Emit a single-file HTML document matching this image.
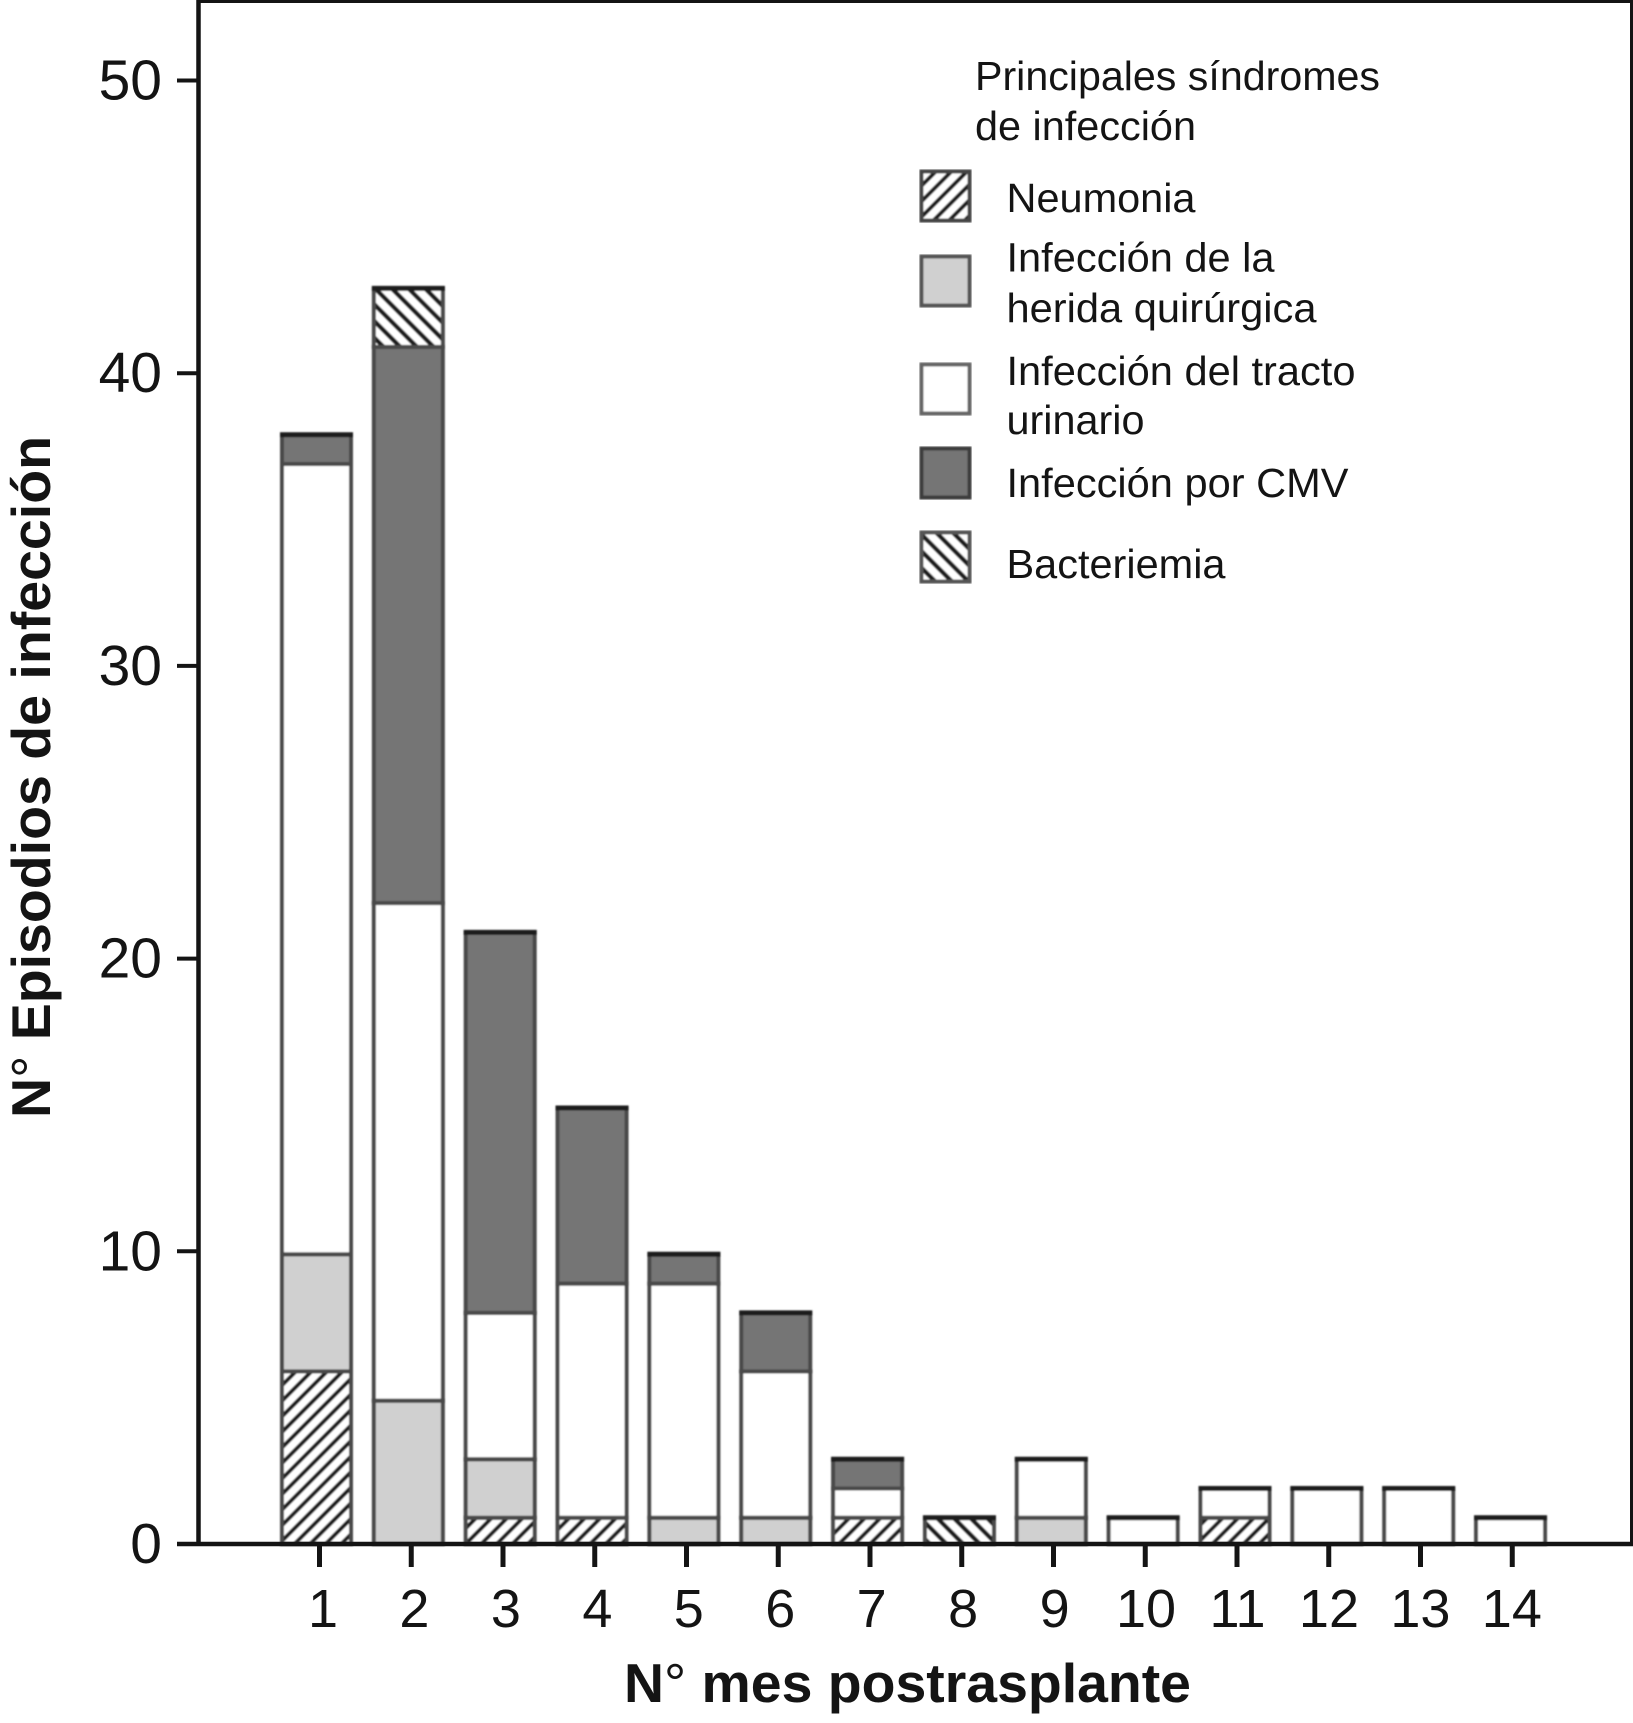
<!DOCTYPE html>
<html lang="es">
<head>
<meta charset="utf-8">
<title>Episodios de infección por mes postrasplante</title>
<style>
  html, body { margin: 0; padding: 0; background: #fff; }
  svg { display: block; }
  text { font-family: "Liberation Sans", sans-serif; fill: #141414; }
</style>
</head>
<body>
<svg id="chart" xmlns="http://www.w3.org/2000/svg" width="1633" height="1723" viewBox="0 0 1633 1723">
  <defs>
    <pattern id="hatch-neumonia" patternUnits="userSpaceOnUse" width="11" height="11" patternTransform="rotate(45)">
      <rect width="11" height="11" fill="#fff"/>
      <rect width="4" height="11" fill="#1c1c1c"/>
    </pattern>
    <pattern id="hatch-bacteriemia" patternUnits="userSpaceOnUse" width="11.8" height="11.8" patternTransform="rotate(-45)">
      <rect width="11.8" height="11.8" fill="#fff"/>
      <rect width="4.5" height="11.8" fill="#1c1c1c"/>
    </pattern>
    <filter id="soft" x="-5%" y="-5%" width="110%" height="110%">
      <feGaussianBlur stdDeviation="0.9"/>
    </filter>
  </defs>

  <rect width="1633" height="1723" fill="#fff"/>
  <g id="bars" filter="url(#soft)"></g>

  <g id="axes">
    <line x1="197" y1="1.5" x2="1633" y2="1.5" stroke="#141414" stroke-width="3"/>
    <line x1="1631.5" y1="0" x2="1631.5" y2="1546" stroke="#141414" stroke-width="3"/>
    <line x1="198.5" y1="0" x2="198.5" y2="1546" stroke="#141414" stroke-width="4.5"/>
    <line x1="177" y1="1544" x2="1633" y2="1544" stroke="#141414" stroke-width="4.5"/>
  </g>

  <text transform="translate(50 1118) rotate(-90)" font-size="55" font-weight="700" textLength="682" lengthAdjust="spacingAndGlyphs">N<tspan font-weight="400">°</tspan> Episodios de infección</text>
  <text x="624" y="1702" font-size="55" font-weight="700" textLength="567" lengthAdjust="spacingAndGlyphs">N<tspan font-weight="400">°</tspan> mes postrasplante</text>

  <g font-size="40.5">
    <text x="975" y="90" textLength="405" lengthAdjust="spacingAndGlyphs">Principales síndromes</text>
    <text x="975" y="140" textLength="221" lengthAdjust="spacingAndGlyphs">de infección</text>

    <g>
      <rect x="921.5" y="171.5" width="48" height="49" fill="url(#hatch-neumonia)" stroke="#444" stroke-width="4" filter="url(#soft)"/>
      <text x="1006.5" y="212" textLength="189" lengthAdjust="spacingAndGlyphs">Neumonia</text>
    </g>
    <g>
      <rect x="921.5" y="256.5" width="48" height="49" fill="#d0d0d0" stroke="#555" stroke-width="4" filter="url(#soft)"/>
      <text x="1006.5" y="271.5" textLength="268" lengthAdjust="spacingAndGlyphs">Infección de la</text>
      <text x="1006.5" y="322" textLength="310" lengthAdjust="spacingAndGlyphs">herida quirúrgica</text>
    </g>
    <g>
      <rect x="921.5" y="364.5" width="48" height="49" fill="#fff" stroke="#666" stroke-width="4" filter="url(#soft)"/>
      <text x="1006.5" y="385" textLength="349" lengthAdjust="spacingAndGlyphs">Infección del tracto</text>
      <text x="1006.5" y="434" textLength="138" lengthAdjust="spacingAndGlyphs">urinario</text>
    </g>
    <g>
      <rect x="921.5" y="448.5" width="48" height="49" fill="#757575" stroke="#3c3c3c" stroke-width="4" filter="url(#soft)"/>
      <text x="1006.5" y="497" textLength="342" lengthAdjust="spacingAndGlyphs">Infección por CMV</text>
    </g>
    <g>
      <rect x="921.5" y="532.5" width="48" height="49" fill="url(#hatch-bacteriemia)" stroke="#555" stroke-width="4" filter="url(#soft)"/>
      <text x="1006.5" y="578" textLength="219" lengthAdjust="spacingAndGlyphs">Bacteriemia</text>
    </g>
  </g>
</svg>

<script>
const months = [1, 2, 3, 4, 5, 6, 7, 8, 9, 10, 11, 12, 13, 14];
const yTickLabels = [0, 10, 20, 30, 40, 50];
const neumonia    = [6, 0, 1, 1, 0, 0, 1, 0, 0, 0, 1, 0, 0, 0];
const herida      = [4, 5, 2, 0, 1, 1, 0, 0, 1, 0, 0, 0, 0, 0];
const urinario    = [27, 17, 5, 8, 8, 5, 1, 0, 2, 1, 1, 2, 2, 1];
const cmv         = [1, 19, 13, 6, 1, 2, 1, 0, 0, 0, 0, 0, 0, 0];
const bacteriemia = [0, 2, 0, 0, 0, 0, 0, 1, 0, 0, 0, 0, 0, 0];

const NS = 'http://www.w3.org/2000/svg';
const barWidth = 73;
const yScale = v => 1544 - v * 29.27;
const barCenter = m => 316.5 + (m - 1) * 91.85;
const tickX = m => 319.5 + (m - 1) * 91.75;
const labelX = m => 323 + (m - 1) * 91.45;

function make(tag, attrs) {
  const el = document.createElementNS(NS, tag);
  for (const k in attrs) el.setAttribute(k, attrs[k]);
  return el;
}

const barsGroup = document.getElementById('bars');
const axesGroup = document.getElementById('axes');
const chart = document.getElementById('chart');

const stackOrder = [
  { key: 'neumonia', values: neumonia, fill: 'url(#hatch-neumonia)' },
  { key: 'herida', values: herida, fill: '#d0d0d0' },
  { key: 'urinario', values: urinario, fill: '#ffffff' },
  { key: 'cmv', values: cmv, fill: '#757575' },
  { key: 'bacteriemia', values: bacteriemia, fill: 'url(#hatch-bacteriemia)' }
];

months.forEach((m, i) => {
  let base = 0;
  const total = stackOrder.reduce((sum, s) => sum + s.values[i], 0);
  stackOrder.forEach(s => {
    const v = s.values[i];
    if (v > 0) {
      const top = yScale(base + v) + 3;
      const bottom = Math.min(yScale(base) + 3, 1544);
      const left = barCenter(m) - barWidth / 2 + 2;
      const rect = make('rect', {
        x: left,
        y: top,
        width: barWidth - 4,
        height: Math.max(bottom - top, 1),
        fill: s.fill,
        stroke: '#4a4a4a',
        'stroke-width': 4
      });
      
      
      barsGroup.appendChild(rect);

      const isStackTop = base + v === total;
      const cap = make('line', {
        x1: left - 2,
        x2: left + barWidth - 2,
        y1: top,
        y2: top,
        stroke: isStackTop ? '#1c1c1c' : '#333333',
        'stroke-width': isStackTop ? 5 : 4
      });
      
      
      barsGroup.appendChild(cap);
    }
    base += v;
  });

  const tick = make('line', {
    x1: tickX(m), x2: tickX(m), y1: 1544, y2: 1567,
    stroke: '#141414', 'stroke-width': 5
  });
  
  
  axesGroup.appendChild(tick);

  const label = make('text', {
    x: labelX(m), y: 1627, 'text-anchor': 'middle', 'font-size': 54
  });
  label.textContent = m;
  
  
  chart.appendChild(label);
});

yTickLabels.forEach(v => {
  const y = yScale(v);
  if (v > 0) {
    const tick = make('line', {
      x1: 177, x2: 198, y1: y, y2: y,
      stroke: '#141414', 'stroke-width': 4
    });
    
    
    axesGroup.appendChild(tick);
  }
  const label = make('text', {
    x: 162, y: y + 19, 'text-anchor': 'end', 'font-size': 57
  });
  label.textContent = v;
  
  
  chart.appendChild(label);
});
</script>
</body>
</html>
